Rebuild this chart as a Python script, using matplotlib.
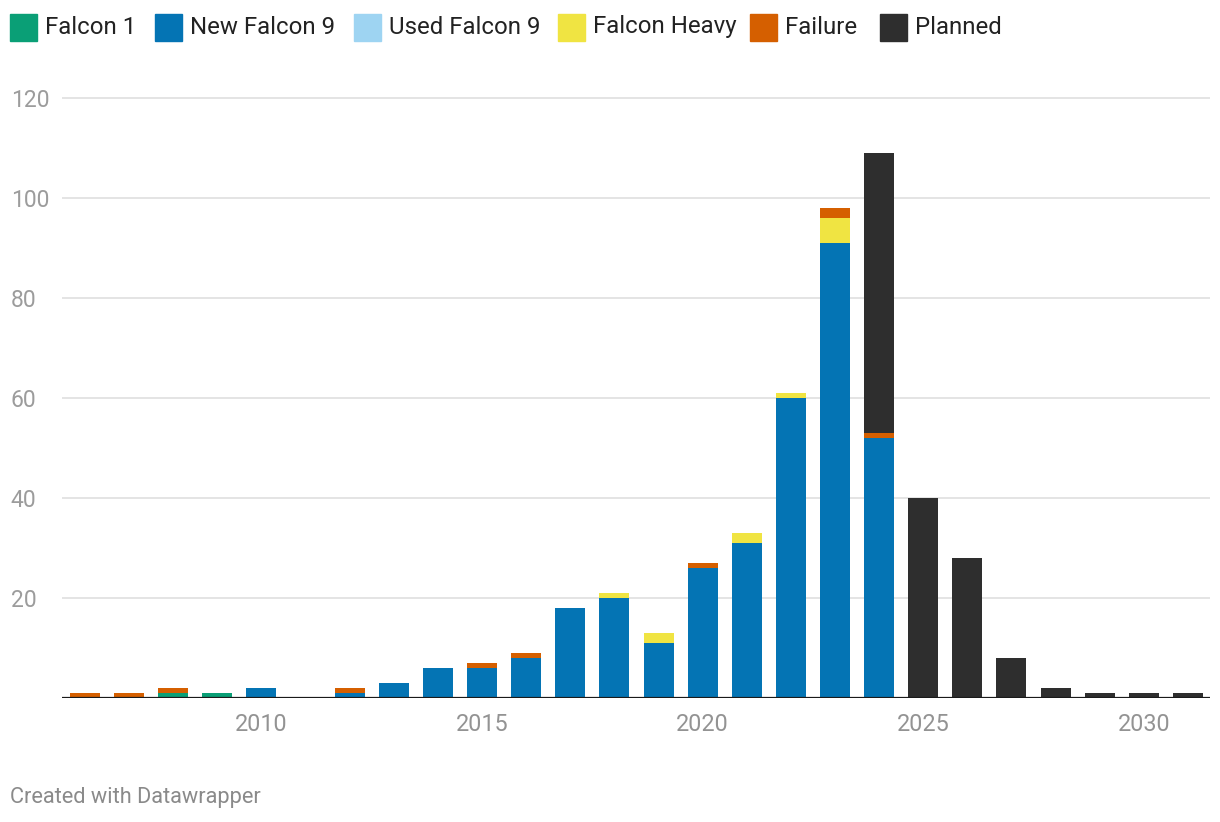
import numpy as np
import matplotlib
matplotlib.use('Agg')
import matplotlib.pyplot as plt
from matplotlib.patches import Rectangle

plt.rcParams['font.family'] = ['Roboto', 'DejaVu Sans']

years        = list(range(2006, 2032))
falcon1      = [0, 0, 1, 1, 0, 0, 0, 0, 0, 0, 0, 0, 0, 0, 0, 0, 0, 0, 0, 0, 0, 0, 0, 0, 0, 0]
new_f9       = [0, 0, 0, 0, 2, 0, 1, 3, 6, 6, 8, 18, 20, 11, 26, 31, 60, 91, 52, 0, 0, 0, 0, 0, 0, 0]
used_f9      = [0] * 26
falcon_heavy = [0, 0, 0, 0, 0, 0, 0, 0, 0, 0, 0, 0, 1, 2, 0, 2, 1, 5, 0, 0, 0, 0, 0, 0, 0, 0]
failure      = [1, 1, 1, 0, 0, 0, 1, 0, 0, 1, 1, 0, 0, 0, 1, 0, 0, 2, 1, 0, 0, 0, 0, 0, 0, 0]
planned      = [0, 0, 0, 0, 0, 0, 0, 0, 0, 0, 0, 0, 0, 0, 0, 0, 0, 0, 56, 40, 28, 8, 2, 1, 1, 1]

series = [('Falcon 1', falcon1, '#0a9f76'),
          ('New Falcon 9', new_f9, '#0474b4'),
          ('Used Falcon 9', used_f9, '#9ed4f2'),
          ('Falcon Heavy', falcon_heavy, '#f0e442'),
          ('Failure', failure, '#d55f00'),
          ('Planned', planned, '#2e2e2e')]

yticks = [20, 40, 60, 80, 100, 120]
xticks = [2010, 2015, 2020, 2025, 2030]

fig = plt.figure(figsize=(12.2, 8.22), dpi=100)
ax = fig.add_axes([62/1220, 1 - 698/822, 1148/1220, 620/822])

bottom = np.zeros(len(years))
for name, vals, col in series:
    v = np.array(vals, dtype=float)
    ax.bar(years, v, bottom=bottom, width=0.68, color=col, linewidth=0, zorder=3)
    bottom += v

ax.set_xlim(2005.48, 2031.5)
ax.set_ylim(0, 124)
ax.set_yticks(yticks)
ax.set_xticks(xticks)
ax.set_xticklabels([str(x) for x in xticks], fontsize=16.8, color='#939393')
ax.set_yticklabels([str(y) for y in yticks], fontsize=16.5, color='#9c9c9c')
for lab in ax.get_yticklabels():
    lab.set_horizontalalignment('left')
ax.tick_params(axis='y', length=0, pad=37)
ax.tick_params(axis='x', length=0, pad=11)
ax.grid(axis='y', color='#e4e4e4', linewidth=1.4, zorder=0)
for s in ax.spines.values():
    s.set_visible(False)
ax.axhline(0, color='#1a1a1a', linewidth=1.6, zorder=4)

# legend
leg_x = [10, 155, 354, 558, 750, 880]
for (name, vals, col), x in zip(series, leg_x):
    fig.patches.append(Rectangle((x/1220, 1 - 41/822), 27/1220, 27/822,
                                 transform=fig.transFigure, color=col, figure=fig))
    fig.text((x + 35)/1220, 1 - 27/822, name, fontsize=17.3, color='#222222',
             va='center', ha='left')

fig.text(10/1220, 1 - 797/822, 'Created with Datawrapper', fontsize=15.7,
         color='#8a8a8a', va='center', ha='left')

fig.savefig('out.png', dpi=100)
